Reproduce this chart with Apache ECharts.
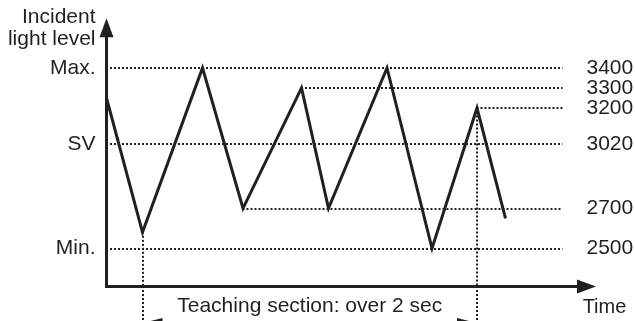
<!DOCTYPE html>
<html>
<head>
<meta charset="utf-8">
<script src="https://cdn.jsdelivr.net/npm/echarts@6/dist/echarts.min.js"></script>
<style>
html, body { margin: 0; padding: 0; background: #fff; }
#contain { width: 635px; height: 321px; }
</style>
</head>
<body>
<div id="contain"></div>
<script>
// turning points of the incident light level (time in s)
const times = [0, 0.24, 0.64, 0.91, 1.30, 1.48, 1.87, 2.17, 2.47, 2.66];
const lightLevels = [3250, 2580, 3400, 2700, 3300, 2700, 3400, 2500, 3200, 2650];

// dotted reference levels, and the point each one starts from
const levels = [3400, 3300, 3200, 3020, 2700, 2500];
const levelFrom = [0, 4, 8, 0, 3, 0];
const levelEnd = 3.04;

const namedLevels = [3400, 3020, 2500];
const namedLabels = ['Max.', 'SV', 'Min.'];

// teaching section runs from point 1 to point 8
const teachFrom = 1;
const teachTo = 8;
const teachText = 'Teaching section: over 2 sec';

const yMin = 2310;
const yMax = 3600;
const tMax = 3.2;

const ink = '#231f20';
const font = 'Liberation Sans, Arial, sans-serif';
const fs = 21;
const dotted = { color: ink, width: 2, type: [2, 2], dashOffset: 0.5 };

const chart = echarts.init(document.getElementById('contain'));

const levelLines = levels.map((v, i) => [
  { coord: [times[levelFrom[i]], v], label: { formatter: String(v) } },
  { coord: [levelEnd, v] }
]);
const teachUpper = [teachFrom, teachTo].map(i => [
  { coord: [times[i], lightLevels[i]], label: { show: false } },
  { coord: [times[i], yMin] }
]);
const teachLower = [teachFrom, teachTo].map(i => [
  { coord: [times[i], 1] },
  { coord: [times[i], 0] }
]);

const option = {
  animation: false,
  textStyle: { fontFamily: font },
  grid: [
    { left: 106.5, right: 48.5, top: 27.8, bottom: 34.5, outerBoundsMode: 'none' },
    { left: 106.5, right: 48.5, top: 286.5, bottom: -20, outerBoundsMode: 'none' }
  ],
  xAxis: [
    {
      type: 'value',
      min: 0,
      max: tMax,
      name: 'Time',
      nameLocation: 'end',
      nameGap: 18,
      nameTextStyle: { color: ink, fontSize: 20, align: 'center', verticalAlign: 'top', padding: [11, 0, 0, 0] },
      axisLine: { symbol: ['none', 'triangle'], symbolSize: [14, 19], lineStyle: { color: ink, width: 3, cap: 'square' } },
      axisTick: { show: false },
      axisLabel: { show: false },
      splitLine: { show: false }
    },
    { type: 'value', gridIndex: 1, min: 0, max: tMax, show: false }
  ],
  yAxis: [
    {
      type: 'value',
      min: yMin,
      max: yMax,
      name: 'Incident\nlight level',
      nameLocation: 'end',
      nameGap: 0,
      nameTextStyle: { color: ink, fontSize: fs, lineHeight: 22, align: 'right', verticalAlign: 'middle', padding: [5, 11, 0, 0] },
      axisLine: { symbol: ['none', 'triangle'], symbolSize: [14, 19], lineStyle: { color: ink, width: 3, cap: 'square' } },
      axisTick: { show: false },
      splitLine: { show: false },
      axisLabel: {
        customValues: namedLevels,
        margin: 11,
        color: ink,
        fontSize: fs,
        formatter: v => namedLabels[namedLevels.indexOf(v)]
      }
    },
    { type: 'value', gridIndex: 1, min: 0, max: 1, show: false }
  ],
  series: [
    {
      type: 'line',
      data: times.map((t, i) => [t, lightLevels[i]]),
      symbol: 'none',
      silent: true,
      lineStyle: { color: ink, width: 3, join: 'miter', miterLimit: 10 },
      markLine: {
        silent: true,
        symbol: ['none', 'none'],
        lineStyle: dotted,
        label: { show: true, position: 'end', distance: 24, color: ink, fontSize: fs },
        data: levelLines.concat(teachUpper)
      },
      z: 3
    },
    {
      type: 'line',
      xAxisIndex: 1,
      yAxisIndex: 1,
      data: [],
      silent: true,
      markLine: {
        silent: true,
        symbol: ['none', 'none'],
        lineStyle: dotted,
        label: { show: false },
        data: teachLower.concat([[
          {
            coord: [times[teachFrom], 0.33],
            symbol: 'triangle',
            symbolSize: [10, 20],
            symbolOffset: [0, 10],
            lineStyle: { type: 'solid', width: 1 },
            label: { show: true, position: 'insideMiddleTop', distance: 6, formatter: teachText, color: ink, fontSize: fs }
          },
          { coord: [times[teachTo], 0.33], symbol: 'triangle', symbolSize: [10, 20], symbolOffset: [0, 10] }
        ]])
      }
    }
  ]
};

chart.setOption(option);
</script>
</body>
</html>
